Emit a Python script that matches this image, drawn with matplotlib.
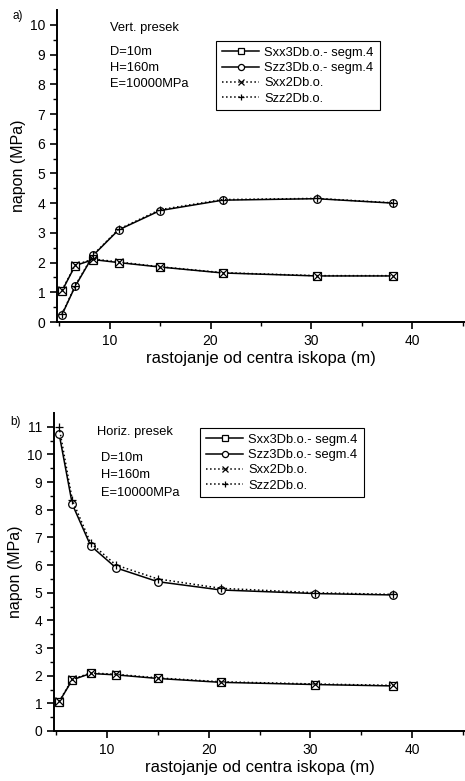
import numpy as np
import matplotlib
matplotlib.use("Agg")
import matplotlib.pyplot as plt

plt.rcParams["font.family"] = ["Liberation Sans", "DejaVu Sans"]

# rastojanje od centra iskopa (m)
x = [5.3, 6.6, 8.4, 10.9, 15.0, 21.2, 30.5, 38.1]

# a) vertikalni presek
a_sxx3d = [1.05, 1.90, 2.10, 2.00, 1.85, 1.65, 1.55, 1.55]
a_szz3d = [0.25, 1.20, 2.25, 3.10, 3.75, 4.10, 4.15, 4.00]
a_sxx2d = [1.07, 1.92, 2.12, 2.02, 1.86, 1.66, 1.56, 1.56]
a_szz2d = [0.27, 1.22, 2.27, 3.12, 3.78, 4.12, 4.16, 4.01]

# b) horizontalni presek
b_sxx3d = [1.05, 1.85, 2.08, 2.03, 1.90, 1.76, 1.68, 1.63]
b_szz3d = [10.75, 8.20, 6.70, 5.90, 5.40, 5.10, 4.97, 4.92]
b_sxx2d = [1.07, 1.87, 2.10, 2.05, 1.92, 1.78, 1.70, 1.65]
b_szz2d = [11.00, 8.35, 6.80, 6.00, 5.50, 5.16, 5.00, 4.94]

labels = ["Sxx3Db.o.- segm.4", "Szz3Db.o.- segm.4", "Sxx2Db.o.", "Szz2Db.o."]
params = ["D=10m", "H=160m", "E=10000MPa"]

W, H = 465, 781
fig = plt.figure(figsize=(W/100, H/100), dpi=100)

def fx(px): return px / W
def fy(py): return 1 - py / H

def panel(rect, ylim, yticks, series, leg_xy, title, title_xy, par_xy, par_dy, tag, tag_xy):
    ax = fig.add_axes(rect)
    styles = [("-", "s"), ("-", "o"), (":", "x"), (":", "+")]
    handles = []
    for (ls, mk), ys, lab in zip(styles, series, labels):
        h, = ax.plot(x, ys, ls=ls, color="black", lw=1.1, marker=mk, ms=5.5,
                     mfc="white" if mk in "so" else "black", mec="black", mew=0.9, label=lab)
        handles.append(h)
    ax.set_xlim(4.8, 45.2)
    ax.set_ylim(*ylim)
    ax.set_xticks([10, 20, 30, 40])
    ax.set_xticks([5, 15, 25, 35, 45], minor=True)
    ax.set_yticks(yticks)
    ax.set_yticks(np.arange(0.5, ylim[1], 1.0), minor=True)
    for s in ["top", "right"]:
        ax.spines[s].set_visible(False)
    ax.spines["left"].set_linewidth(1.4)
    ax.spines["bottom"].set_linewidth(1.4)
    ax.tick_params(which="major", direction="out", length=5, width=1.2, labelsize=10)
    ax.tick_params(which="minor", direction="out", length=3, width=1.0)
    ax.set_ylabel("napon (MPa)", fontsize=11.5, labelpad=3)
    ax.set_xlabel("rastojanje od centra iskopa (m)", fontsize=12, labelpad=2)
    leg = ax.legend(handles=handles, loc="upper left", bbox_to_anchor=(fx(leg_xy[0]), fy(leg_xy[1])),
                    bbox_transform=fig.transFigure, borderaxespad=0, fancybox=False,
                    edgecolor="black", fontsize=9.3, handlelength=2.9, handletextpad=0.4,
                    labelspacing=0.25, borderpad=0.45, framealpha=1, markerscale=0.8)
    leg.get_frame().set_linewidth(0.8)
    fig.text(fx(title_xy[0]), fy(title_xy[1]), title, fontsize=9.3, va="center")
    for i, p in enumerate(params):
        fig.text(fx(par_xy[0]), fy(par_xy[1] + i * par_dy), p, fontsize=9.3, va="center")
    fig.text(fx(tag_xy[0]), fy(tag_xy[1]), tag, fontsize=8.5, va="center")
    return ax

panel([fx(57), fy(322), 1 - fx(57), (322 - 10) / H], (0, 10.5), range(0, 11),
      [a_sxx3d, a_szz3d, a_sxx2d, a_szz2d], (216, 41),
      "Vert. presek", (110, 28), (110, 52), 16, "a)", (12, 16))
panel([fx(54), fy(731), 1 - fx(54), (731 - 413) / H], (0, 11.5), range(0, 12),
      [b_sxx3d, b_szz3d, b_sxx2d, b_szz2d], (200, 428),
      "Horiz. presek", (97, 432), (101, 458), 17.5, "b)", (10, 422))

fig.savefig("out.png", dpi=100)
